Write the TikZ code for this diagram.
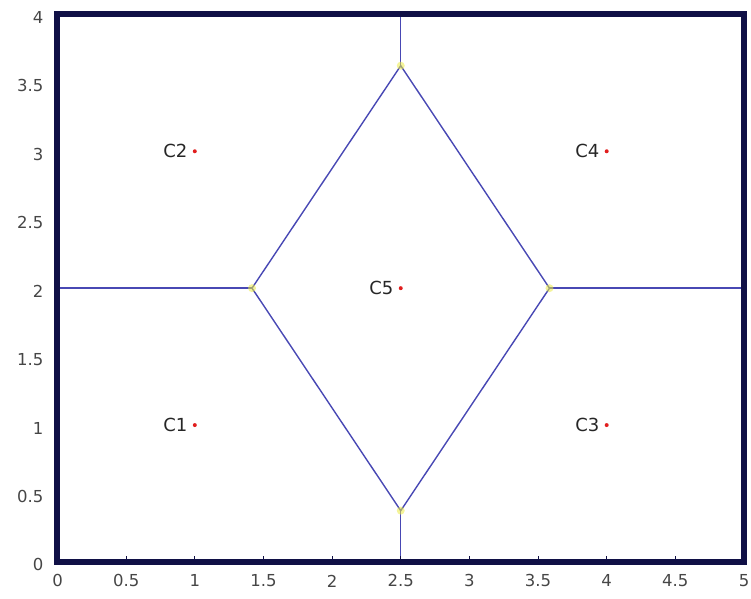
\documentclass[tikz,border=0pt]{standalone}
\usepackage{fontspec}
\setmainfont{DejaVu Sans}
\definecolor{framec}{RGB}{16,16,70}
\definecolor{vblue}{RGB}{72,72,180}
\definecolor{sred}{RGB}{225,30,30}
\definecolor{vyel}{RGB}{235,235,70}
\definecolor{tickc}{RGB}{70,70,70}
\begin{document}
\begin{tikzpicture}[x=137.3pt,y=136.9pt,
  edge/.style={draw=vblue,line width=1.4pt},
  site/.style={circle,fill=sred,inner sep=0pt,minimum size=4pt},
  vtx/.style={circle,fill=vyel,fill opacity=0.55,inner sep=0pt,minimum size=8pt},
  lab/.style={anchor=east,font=\fontsize{18}{20}\selectfont,inner sep=0pt,text=black!85,xshift=-5pt},
  ticklab/.style={font=\fontsize{16.5}{19}\selectfont,inner sep=0pt,text=tickc},
  tickmark/.style={draw=framec,line width=1pt},
  frame/.style={draw=framec,line width=6pt}]
\useasboundingbox (-0.4188,-0.2703) rectangle (5.051,4.105);
% Voronoi vertices
\coordinate (vt) at (2.5,3.625);
\coordinate (vb) at (2.5,0.375);
\coordinate (vl) at (1.4167,2);
\coordinate (vr) at (3.5833,2);
% edge ends on the frame
\coordinate (et) at (2.5,4);
\coordinate (eb) at (2.5,0);
\coordinate (el) at (0,2);
\coordinate (er) at (5,2);
% Voronoi edges
\draw[edge] (vt) -- (vr) -- (vb) -- (vl) -- cycle;
\draw[edge] (vt) -- (et);
\draw[edge] (vb) -- (eb);
\draw[edge] (vl) -- (el);
\draw[edge] (vr) -- (er);
% vertex glows
\foreach \v in {vt,vb,vl,vr} \node[vtx] at (\v) {};
% sites
\node[site] (c1) at (1,1) {};
\node[site] (c2) at (1,3) {};
\node[site] (c3) at (4,1) {};
\node[site] (c4) at (4,3) {};
\node[site] (c5) at (2.5,2) {};
\node[lab] (l1) at (c1.west) {C1};
\node[lab] (l2) at (c2.west) {C2};
\node[lab] (l3) at (c3.west) {C3};
\node[lab] (l4) at (c4.west) {C4};
\node[lab] (l5) at (c5.west) {C5};
% ticks
\foreach \t in {0.5,1,...,4.5} \draw[tickmark] (\t,0) -- ++(0,6pt);
% frame
\draw[frame,line cap=rect] (0,0) rectangle (5,4);
% tick labels
\foreach \t/\s in {0/0,0.5/0.5,1/1,1.5/1.5,2/2,2.5/2.5,3/3,3.5/3.5,4/4,4.5/4.5,5/5}
  \node[ticklab] at ([yshift=-19pt]\t,0) {\s};
\foreach \t/\s in {0/0,0.5/0.5,1/1,1.5/1.5,2/2,2.5/2.5,3/3,3.5/3.5,4/4}
  \node[ticklab,anchor=east] at ([xshift=-14pt,yshift=-3pt]0,\t) {\s};
\end{tikzpicture}
\end{document}
